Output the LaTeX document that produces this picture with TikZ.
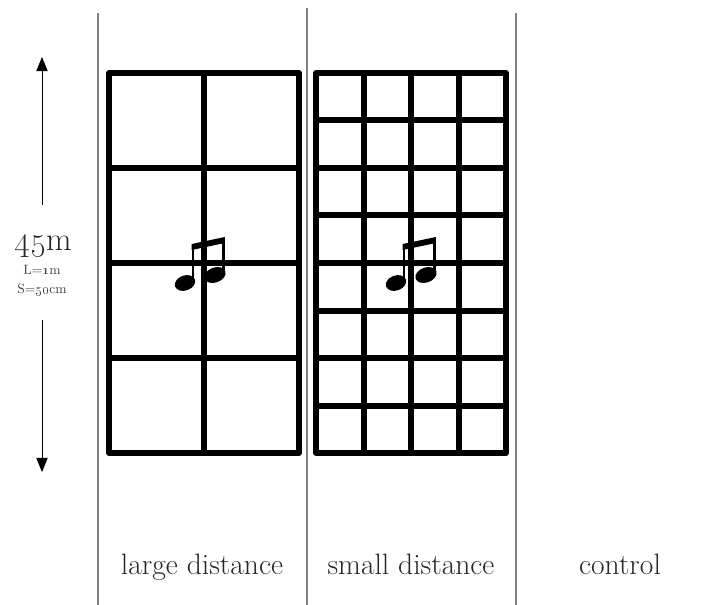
\documentclass[tikz,border=0pt]{standalone}
\usepackage{amsmath}
\usepackage{xcolor}
\usepackage{tikz}
\usetikzlibrary{arrows.meta}
\tikzstyle{grid}=[line width=3.7pt, line cap=round, line join=round, black]
\tikzstyle{divider}=[line width=1pt, black!50]
\tikzstyle{span}=[-{Triangle[length=10pt,width=8pt]}, line width=0.7pt, black]
\tikzstyle{caption}=[font=\fontsize{21}{23}\selectfont, text=black!85, inner sep=0pt, anchor=base]
\tikzstyle{small}=[font=\fontsize{9.6}{10}\selectfont, text=black!75, inner sep=0pt]
\tikzset{
  notes/.pic={
    \fill (-19,20) ellipse [x radius=10.5, y radius=7.5, rotate=20];
    \fill (11,12) ellipse [x radius=11, y radius=7.5, rotate=20];
    \draw[line width=1.9pt] (-11,18) -- (-11,-17);
    \draw[line width=1.9pt] (19.5,10) -- (19.5,-25);
    \fill (-12.3,-19) -- (20.8,-26) -- (20.8,-20) -- (-12.3,-13) -- cycle;
  }
}
\begin{document}
\begin{tikzpicture}[x=0.025cm,y=-0.025cm]
\useasboundingbox (0,0) rectangle (711,605);
% dividers
\draw[divider] (98,13) -- (98,605);
\draw[divider] (307,8) -- (307,605);
\draw[divider] (516,13) -- (516,605);
% large distance
\draw[grid] (109,73) rectangle (299,453);
\draw[grid] (204,73) -- (204,453);
\foreach \y in {168,263,358}
  \draw[grid] (109,\y) -- (299,\y);
% small distance
\draw[grid] (316,73) rectangle (506,453);
\foreach \x in {364,411,459}
  \draw[grid] (\x,73) -- (\x,453);
\foreach \y in {120,168,215,263,311,358,406}
  \draw[grid] (316,\y) -- (506,\y);
\pic at (204,263) {notes};
\pic at (415,263) {notes};
% scale
\node[inner sep=0pt, font=\fontsize{23.5}{25}\selectfont, text=black!85] (len) at (43,246) {\oldstylenums{45}m};
\node[small] (l) at (42,270) {L=\oldstylenums{1}m};
\node[small] (s) at (42,290) {S=\oldstylenums{50}cm};
\coordinate (top) at (42,57);
\coordinate (bot) at (42,472);
\coordinate (a) at (42,205);
\coordinate (b) at (42,320);
\draw[span] (a) -- (top);
\draw[span] (b) -- (bot);
% captions
\node[caption] (c1) at (202,574) {large distance};
\node[caption] (c2) at (411,574) {small distance};
\node[caption] (c3) at (620,574) {control};
\end{tikzpicture}
\end{document}
